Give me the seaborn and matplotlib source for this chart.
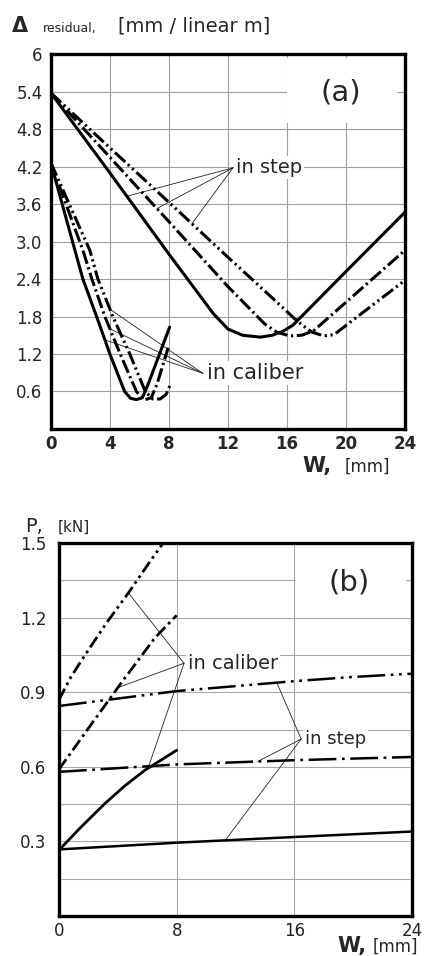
import numpy as np
import matplotlib
matplotlib.use("Agg")
import matplotlib.pyplot as plt
import seaborn as sns
from matplotlib.patches import Rectangle
from matplotlib.ticker import MultipleLocator

# ---------------- panel (a): residual deflection vs W ----------------
# "in step" curves
a_step_solid_w = [0, 4, 8, 11.0, 12.0, 13.0, 14.2, 15.0, 15.7, 16.4, 20, 24]
a_step_solid_v = [5.38, 4.10, 2.80, 1.85, 1.60, 1.50, 1.47, 1.50, 1.56, 1.66, 2.52, 3.47]

a_step_dashdot_w = [0, 4, 8, 12, 13.5, 14.5, 15.3, 16.2, 17.0, 17.8, 24]
a_step_dashdot_v = [5.38, 4.35, 3.32, 2.28, 1.92, 1.68, 1.55, 1.49, 1.50, 1.57, 2.86]

a_step_ddot_w = [0, 4, 8, 12, 15, 16.5, 17.0, 17.7, 18.5, 19.2, 19.8, 24]
a_step_ddot_v = [5.38, 4.50, 3.63, 2.75, 2.10, 1.77, 1.67, 1.55, 1.49, 1.51, 1.62, 2.38]

# "in caliber" curves
a_cal_solid_w = [0, 1.63, 2.17, 3.1, 4.0, 5.0, 5.4, 5.8, 6.2, 6.6, 8.05]
a_cal_solid_v = [4.26, 2.86, 2.40, 1.80, 1.20, 0.60, 0.49, 0.47, 0.50, 0.72, 1.63]

a_cal_dashdot_w = [0, 2.17, 2.78, 3.66, 4.7, 5.8, 6.1, 6.4, 6.8, 7.2, 7.95]
a_cal_dashdot_v = [4.26, 2.86, 2.40, 1.80, 1.20, 0.60, 0.51, 0.47, 0.50, 0.72, 1.30]

a_cal_ddot_w = [0, 2.64, 3.19, 4.2, 5.35, 6.4, 6.9, 7.4, 7.8, 8.1]
a_cal_ddot_v = [4.26, 2.86, 2.40, 1.80, 1.20, 0.60, 0.48, 0.48, 0.55, 0.71]

a_xticks = [0, 4, 8, 12, 16, 20, 24]
a_yticks = [0.6, 1.2, 1.8, 2.4, 3.0, 3.6, 4.2, 4.8, 5.4, 6.0]
a_ylabels = ["0.6", "1.2", "1.8", "2.4", "3.0", "3.6", "4.2", "4.8", "5.4", "6"]

# ---------------- panel (b): force P vs W ----------------
b_cal_ddot_w = [0, 0.8, 1.66, 3.24, 4.72, 6.0, 7.07]
b_cal_ddot_v = [0.87, 0.96, 1.04, 1.18, 1.30, 1.41, 1.50]

b_cal_dashdot_w = [0, 2.0, 4.26, 6.53, 8.0]
b_cal_dashdot_v = [0.59, 0.755, 0.94, 1.12, 1.21]

b_cal_solid_w = [0, 1.5, 3.13, 4.5, 5.85, 8.0]
b_cal_solid_v = [0.265, 0.358, 0.453, 0.525, 0.587, 0.667]

b_step_ddot_w = [0, 4, 8, 12, 16, 20, 24]
b_step_ddot_v = [0.845, 0.875, 0.905, 0.925, 0.945, 0.962, 0.975]

b_step_dashdot_w = [0, 8, 16, 24]
b_step_dashdot_v = [0.58, 0.61, 0.627, 0.64]

b_step_solid_w = [0, 8, 16, 24]
b_step_solid_v = [0.268, 0.295, 0.318, 0.34]

b_xticks = [0, 8, 16, 24]
b_yticks = [0.3, 0.6, 0.9, 1.2, 1.5]
b_ylabels = ["0.3", "0.6", "0.9", "1.2", "1.5"]

# ---------------- styling ----------------
sns.set_style("white")
plt.rcParams["font.family"] = ["DejaVu Sans"]
plt.rcParams["lines.scale_dashes"] = False
plt.rcParams["lines.solid_capstyle"] = "round"

DASHDOT_A = (0, (10, 2.6, 1.6, 2.6))
DDOT_A = (0, (10, 2.6, 1.6, 2.6, 1.6, 2.6))
DASHDOT_BC = (0, (9, 3, 2, 3))
DDOT_BC = (0, (9, 3, 2, 3, 2, 3))
DASHDOT_BS = (0, (20, 4, 2, 4))
DDOT_BS = (0, (20, 4, 2, 4, 2, 4))

fig = plt.figure(figsize=(4.24, 9.56), dpi=100)
ax1 = fig.add_axes([0.120, 0.5513, 0.835, 0.392])
ax2 = fig.add_axes([0.139, 0.0418, 0.833, 0.390])


def curve(ax, w, v, ls, lw):
    sns.lineplot(x=w, y=v, ax=ax, color="black", lw=lw, linestyle=ls,
                 sort=False, estimator=None, zorder=3)


def leader(ax, hub, w, v, at_w):
    y = np.interp(at_w, w, v)
    ax.plot([hub[0], at_w], [hub[1], y], color="#222222", lw=0.6, zorder=2.5)


# ---- panel (a) ----
curve(ax1, a_step_solid_w, a_step_solid_v, "-", 2.2)
curve(ax1, a_step_dashdot_w, a_step_dashdot_v, DASHDOT_A, 2.2)
curve(ax1, a_step_ddot_w, a_step_ddot_v, DDOT_A, 2.2)
curve(ax1, a_cal_solid_w, a_cal_solid_v, "-", 2.2)
curve(ax1, a_cal_dashdot_w, a_cal_dashdot_v, DASHDOT_A, 2.2)
curve(ax1, a_cal_ddot_w, a_cal_ddot_v, DDOT_A, 2.2)

ax1.set_xlim(0, 24)
ax1.set_ylim(0, 6)
ax1.set_xticks(a_xticks)
ax1.set_xticklabels([str(t) for t in a_xticks], fontweight="bold", fontsize=12)
ax1.set_yticks(a_yticks)
ax1.set_yticklabels(a_ylabels, fontsize=12)
ax1.set_xlabel("")
ax1.set_ylabel("")
ax1.tick_params(length=0)
ax1.tick_params(axis="x", pad=4)
ax1.tick_params(axis="y", pad=6)
ax1.set_axisbelow(True)
ax1.grid(True, color="#a0a0a0", lw=0.8)
for s in ax1.spines.values():
    s.set_linewidth(2.4)
    s.set_color("black")

ax1.add_patch(Rectangle((0.667, 0.816), 0.31, 0.175, transform=ax1.transAxes,
                        facecolor="white", edgecolor="none", zorder=1))
ax1.text(0.819, 0.899, "(a)", transform=ax1.transAxes, fontsize=21,
         ha="center", va="center", zorder=2)

hub = (12.34, 4.18)
leader(ax1, hub, a_step_solid_w, a_step_solid_v, 5.15)
leader(ax1, hub, a_step_dashdot_w, a_step_dashdot_v, 7.19)
leader(ax1, hub, a_step_ddot_w, a_step_ddot_v, 9.56)
ax1.text(12.55, 4.18, "in step", fontsize=14, ha="left", va="center", zorder=2,
         bbox=dict(boxstyle="square,pad=0.1", fc="white", ec="none"))

hub = (10.3, 0.89)
leader(ax1, hub, a_cal_ddot_w, a_cal_ddot_v, 4.0)
leader(ax1, hub, a_cal_dashdot_w, a_cal_dashdot_v, 4.0)
leader(ax1, hub, a_cal_solid_w, a_cal_solid_v, 3.66)
ax1.text(10.55, 0.89, "in caliber", fontsize=15, ha="left", va="center", zorder=2,
         bbox=dict(boxstyle="square,pad=0.1", fc="white", ec="none"))

# axis titles of (a)
fig.text(0.028, 1 - 32 / 956, "\u0394", fontsize=15, fontweight="bold", va="baseline")
fig.text(0.101, 1 - 32 / 956, "residual,", fontsize=9, va="baseline")
fig.text(0.278, 1 - 32 / 956, "[mm / linear m]", fontsize=14, va="baseline")
fig.text(0.712, 1 - 472 / 956, "W,", fontsize=15, fontweight="bold", va="baseline")
fig.text(0.812, 1 - 472 / 956, "[mm]", fontsize=12, va="baseline")

# ---- panel (b) ----
curve(ax2, b_cal_ddot_w, b_cal_ddot_v, DDOT_BC, 2.0)
curve(ax2, b_cal_dashdot_w, b_cal_dashdot_v, DASHDOT_BC, 2.0)
curve(ax2, b_cal_solid_w, b_cal_solid_v, "-", 2.0)
curve(ax2, b_step_ddot_w, b_step_ddot_v, DDOT_BS, 1.8)
curve(ax2, b_step_dashdot_w, b_step_dashdot_v, DASHDOT_BS, 1.8)
curve(ax2, b_step_solid_w, b_step_solid_v, "-", 1.8)

ax2.set_xlim(0, 24)
ax2.set_ylim(0, 1.5)
ax2.set_xticks(b_xticks)
ax2.set_xticklabels([str(t) for t in b_xticks], fontsize=12, color="#222222")
ax2.set_yticks(b_yticks)
ax2.set_yticklabels(b_ylabels, fontsize=12, color="#222222")
ax2.yaxis.set_minor_locator(MultipleLocator(0.15))
ax2.set_xlabel("")
ax2.set_ylabel("")
ax2.tick_params(which="both", length=0)
ax2.tick_params(axis="x", pad=4)
ax2.tick_params(axis="y", pad=9)
ax2.set_axisbelow(True)
ax2.grid(True, which="both", color="#a8a8a8", lw=0.8)
for s in ax2.spines.values():
    s.set_linewidth(2.4)
    s.set_color("black")

ax2.add_patch(Rectangle((0.671, 0.82), 0.312, 0.148, transform=ax2.transAxes,
                        facecolor="white", edgecolor="none", zorder=1))
ax2.text(0.822, 0.895, "(b)", transform=ax2.transAxes, fontsize=21,
         ha="center", va="center", zorder=2)

hub = (8.5, 1.017)
leader(ax2, hub, b_cal_ddot_w, b_cal_ddot_v, 4.72)
leader(ax2, hub, b_cal_dashdot_w, b_cal_dashdot_v, 4.0)
leader(ax2, hub, b_cal_solid_w, b_cal_solid_v, 6.05)
ax2.text(8.75, 1.017, "in caliber", fontsize=14, ha="left", va="center", zorder=2,
         bbox=dict(boxstyle="square,pad=0.1", fc="white", ec="none"))

hub = (16.46, 0.712)
leader(ax2, hub, b_step_ddot_w, b_step_ddot_v, 14.8)
leader(ax2, hub, b_step_dashdot_w, b_step_dashdot_v, 13.5)
leader(ax2, hub, b_step_solid_w, b_step_solid_v, 11.3)
ax2.text(16.7, 0.712, "in step", fontsize=13, ha="left", va="center", zorder=2,
         bbox=dict(boxstyle="square,pad=0.1", fc="white", ec="none"))

# axis titles of (b)
fig.text(0.059, 1 - 532 / 956, "P,", fontsize=14, va="baseline")
fig.text(0.137, 1 - 532 / 956, "[kN]", fontsize=11, va="baseline")
fig.text(0.795, 1 - 952 / 956, "W,", fontsize=15, fontweight="bold", va="baseline")
fig.text(0.878, 1 - 952 / 956, "[mm]", fontsize=12, va="baseline")

fig.savefig("out.png", dpi=100, facecolor="white")
